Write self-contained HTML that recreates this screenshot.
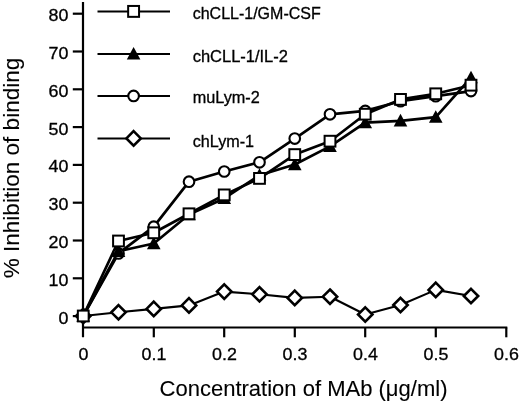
<!DOCTYPE html>
<html><head><meta charset="utf-8"><title>chart</title>
<style>
html,body{margin:0;padding:0;background:#fff;}
body{width:520px;height:403px;overflow:hidden;}
svg{display:block;will-change:transform;}
text{font-family:"Liberation Sans",sans-serif;fill:#000;}
</style></head><body>
<svg width="520" height="403" viewBox="0 0 520 403">
<rect width="520" height="403" fill="#fff"/>
<g stroke="#000" stroke-width="2.2" fill="none">
<line x1="83" y1="2" x2="83" y2="337.3"/>
<line x1="82" y1="327.5" x2="507.3" y2="327.5"/>
<line x1="72.8" y1="316.1" x2="83" y2="316.1"/>
<line x1="72.8" y1="278.3" x2="83" y2="278.3"/>
<line x1="72.8" y1="240.5" x2="83" y2="240.5"/>
<line x1="72.8" y1="202.7" x2="83" y2="202.7"/>
<line x1="72.8" y1="164.9" x2="83" y2="164.9"/>
<line x1="72.8" y1="127.1" x2="83" y2="127.1"/>
<line x1="72.8" y1="89.3" x2="83" y2="89.3"/>
<line x1="72.8" y1="51.5" x2="83" y2="51.5"/>
<line x1="72.8" y1="13.7" x2="83" y2="13.7"/>
<line x1="153.8" y1="327.5" x2="153.8" y2="337.3"/>
<line x1="224.2" y1="327.5" x2="224.2" y2="337.3"/>
<line x1="294.8" y1="327.5" x2="294.8" y2="337.3"/>
<line x1="365.2" y1="327.5" x2="365.2" y2="337.3"/>
<line x1="435.8" y1="327.5" x2="435.8" y2="337.3"/>
<line x1="506.3" y1="327.5" x2="506.3" y2="337.3"/>
</g>
<text transform="translate(68.40,323.50) scale(1.050,1)" font-size="17.00" text-anchor="end" stroke="#000" stroke-width="0.30">0</text>
<text transform="translate(68.40,285.70) scale(1.050,1)" font-size="17.00" text-anchor="end" stroke="#000" stroke-width="0.30">10</text>
<text transform="translate(68.40,247.90) scale(1.050,1)" font-size="17.00" text-anchor="end" stroke="#000" stroke-width="0.30">20</text>
<text transform="translate(68.40,210.10) scale(1.050,1)" font-size="17.00" text-anchor="end" stroke="#000" stroke-width="0.30">30</text>
<text transform="translate(68.40,172.30) scale(1.050,1)" font-size="17.00" text-anchor="end" stroke="#000" stroke-width="0.30">40</text>
<text transform="translate(68.40,134.50) scale(1.050,1)" font-size="17.00" text-anchor="end" stroke="#000" stroke-width="0.30">50</text>
<text transform="translate(68.40,96.70) scale(1.050,1)" font-size="17.00" text-anchor="end" stroke="#000" stroke-width="0.30">60</text>
<text transform="translate(68.40,58.90) scale(1.050,1)" font-size="17.00" text-anchor="end" stroke="#000" stroke-width="0.30">70</text>
<text transform="translate(68.40,21.10) scale(1.050,1)" font-size="17.00" text-anchor="end" stroke="#000" stroke-width="0.30">80</text>
<text transform="translate(83.45,359.60) scale(1.050,1)" font-size="17.00" text-anchor="middle" stroke="#000" stroke-width="0.30">0</text>
<text transform="translate(153.95,359.60) scale(1.050,1)" font-size="17.00" text-anchor="middle" stroke="#000" stroke-width="0.30">0.1</text>
<text transform="translate(224.45,359.60) scale(1.050,1)" font-size="17.00" text-anchor="middle" stroke="#000" stroke-width="0.30">0.2</text>
<text transform="translate(294.95,359.60) scale(1.050,1)" font-size="17.00" text-anchor="middle" stroke="#000" stroke-width="0.30">0.3</text>
<text transform="translate(365.45,359.60) scale(1.050,1)" font-size="17.00" text-anchor="middle" stroke="#000" stroke-width="0.30">0.4</text>
<text transform="translate(435.95,359.60) scale(1.050,1)" font-size="17.00" text-anchor="middle" stroke="#000" stroke-width="0.30">0.5</text>
<text transform="translate(506.45,359.60) scale(1.050,1)" font-size="17.00" text-anchor="middle" stroke="#000" stroke-width="0.30">0.6</text>
<text transform="translate(303.50,395.80) scale(1.020,1)" font-size="21.60" text-anchor="middle" stroke="#000" stroke-width="0.10">Concentration of MAb (μg/ml)</text>
<text transform="translate(19.20,168.00) rotate(-90) scale(1.035,1)" font-size="21.80" text-anchor="middle" stroke="#000" stroke-width="0.10">% Inhibition of binding</text>
<line x1="97.5" y1="11.40" x2="170" y2="11.40" stroke="#000" stroke-width="2"/>
<rect x="128.15" y="5.95" width="10.90" height="10.90" fill="#fff" stroke="#000" stroke-width="2.00"/>
<text transform="translate(192.70,18.50)" font-size="16.00" text-anchor="start" stroke="#000" stroke-width="0.30">chCLL-1/GM-CSF</text>
<line x1="97.5" y1="53.90" x2="170" y2="53.90" stroke="#000" stroke-width="2"/>
<polygon points="133.60,46.97 126.80,59.57 140.40,59.57" fill="#000"/>
<text transform="translate(192.70,61.70) scale(1.030,1)" font-size="16.00" text-anchor="start" stroke="#000" stroke-width="0.30">chCLL-1/IL-2</text>
<line x1="97.5" y1="95.90" x2="170" y2="95.90" stroke="#000" stroke-width="2"/>
<circle cx="133.60" cy="95.90" r="5.30" fill="#fff" stroke="#000" stroke-width="2.10"/>
<text transform="translate(192.70,103.00) scale(1.015,1)" font-size="16.00" text-anchor="start" stroke="#000" stroke-width="0.30">muLym-2</text>
<line x1="97.5" y1="138.40" x2="170" y2="138.40" stroke="#000" stroke-width="2"/>
<polygon points="133.60,131.20 140.80,138.40 133.60,145.60 126.40,138.40" fill="#fff" stroke="#000" stroke-width="2.60" stroke-linejoin="miter"/>
<text transform="translate(192.70,146.50) scale(1.010,1)" font-size="16.00" text-anchor="start" stroke="#000" stroke-width="0.30">chLym-1</text>
<polyline fill="none" stroke="#000" stroke-width="2.10" stroke-linejoin="round" points="83.2,316.0 118.5,312.3 153.8,308.9 189.0,305.4 224.2,291.6 259.5,294.3 294.8,297.9 330.0,296.7 365.2,314.5 400.5,305.0 435.8,289.9 471.0,296.0"/>
<polyline fill="none" stroke="#000" stroke-width="2.70" stroke-linejoin="round" points="83.2,316.0 118.5,253.4 153.8,226.7 189.0,181.7 224.2,171.5 259.5,162.3 294.8,138.6 330.0,114.3 365.2,110.9 400.5,101.2 435.8,96.2 471.0,91.1"/>
<polyline fill="none" stroke="#000" stroke-width="2.70" stroke-linejoin="round" points="83.2,316.0 118.5,251.3 153.8,243.5 189.0,214.5 224.2,198.4 259.5,175.2 294.8,164.5 330.0,146.4 365.2,122.7 400.5,120.8 435.8,117.1 471.0,77.6"/>
<polyline fill="none" stroke="#000" stroke-width="2.70" stroke-linejoin="round" points="83.2,316.0 118.5,241.0 153.8,232.8 189.0,213.8 224.2,194.9 259.5,178.4 294.8,154.6 330.0,141.2 365.2,114.2 400.5,99.4 435.8,93.8 471.0,85.2"/>
<polygon points="83.25,308.80 90.45,316.00 83.25,323.20 76.05,316.00" fill="#fff" stroke="#000" stroke-width="2.60" stroke-linejoin="miter"/>
<polygon points="118.50,305.10 125.70,312.30 118.50,319.50 111.30,312.30" fill="#fff" stroke="#000" stroke-width="2.60" stroke-linejoin="miter"/>
<polygon points="153.75,301.70 160.95,308.90 153.75,316.10 146.55,308.90" fill="#fff" stroke="#000" stroke-width="2.60" stroke-linejoin="miter"/>
<polygon points="189.00,298.20 196.20,305.40 189.00,312.60 181.80,305.40" fill="#fff" stroke="#000" stroke-width="2.60" stroke-linejoin="miter"/>
<polygon points="224.25,284.40 231.45,291.60 224.25,298.80 217.05,291.60" fill="#fff" stroke="#000" stroke-width="2.60" stroke-linejoin="miter"/>
<polygon points="259.50,287.10 266.70,294.30 259.50,301.50 252.30,294.30" fill="#fff" stroke="#000" stroke-width="2.60" stroke-linejoin="miter"/>
<polygon points="294.75,290.70 301.95,297.90 294.75,305.10 287.55,297.90" fill="#fff" stroke="#000" stroke-width="2.60" stroke-linejoin="miter"/>
<polygon points="330.00,289.50 337.20,296.70 330.00,303.90 322.80,296.70" fill="#fff" stroke="#000" stroke-width="2.60" stroke-linejoin="miter"/>
<polygon points="365.25,307.30 372.45,314.50 365.25,321.70 358.05,314.50" fill="#fff" stroke="#000" stroke-width="2.60" stroke-linejoin="miter"/>
<polygon points="400.50,297.80 407.70,305.00 400.50,312.20 393.30,305.00" fill="#fff" stroke="#000" stroke-width="2.60" stroke-linejoin="miter"/>
<polygon points="435.75,282.70 442.95,289.90 435.75,297.10 428.55,289.90" fill="#fff" stroke="#000" stroke-width="2.60" stroke-linejoin="miter"/>
<polygon points="471.00,288.80 478.20,296.00 471.00,303.20 463.80,296.00" fill="#fff" stroke="#000" stroke-width="2.60" stroke-linejoin="miter"/>
<circle cx="83.25" cy="316.00" r="5.30" fill="#fff" stroke="#000" stroke-width="2.10"/>
<circle cx="118.50" cy="253.40" r="5.30" fill="#fff" stroke="#000" stroke-width="2.10"/>
<circle cx="153.75" cy="226.70" r="5.30" fill="#fff" stroke="#000" stroke-width="2.10"/>
<circle cx="189.00" cy="181.70" r="5.30" fill="#fff" stroke="#000" stroke-width="2.10"/>
<circle cx="224.25" cy="171.50" r="5.30" fill="#fff" stroke="#000" stroke-width="2.10"/>
<circle cx="259.50" cy="162.30" r="5.30" fill="#fff" stroke="#000" stroke-width="2.10"/>
<circle cx="294.75" cy="138.60" r="5.30" fill="#fff" stroke="#000" stroke-width="2.10"/>
<circle cx="330.00" cy="114.30" r="5.30" fill="#fff" stroke="#000" stroke-width="2.10"/>
<circle cx="365.25" cy="110.90" r="5.30" fill="#fff" stroke="#000" stroke-width="2.10"/>
<circle cx="400.50" cy="101.20" r="5.30" fill="#fff" stroke="#000" stroke-width="2.10"/>
<circle cx="435.75" cy="96.20" r="5.30" fill="#fff" stroke="#000" stroke-width="2.10"/>
<circle cx="471.00" cy="91.10" r="5.30" fill="#fff" stroke="#000" stroke-width="2.10"/>
<polygon points="83.25,309.07 76.45,321.67 90.05,321.67" fill="#000"/>
<polygon points="118.50,244.37 111.70,256.97 125.30,256.97" fill="#000"/>
<polygon points="153.75,236.57 146.95,249.17 160.55,249.17" fill="#000"/>
<polygon points="189.00,207.57 182.20,220.17 195.80,220.17" fill="#000"/>
<polygon points="224.25,191.47 217.45,204.07 231.05,204.07" fill="#000"/>
<polygon points="259.50,168.27 252.70,180.87 266.30,180.87" fill="#000"/>
<polygon points="294.75,157.57 287.95,170.17 301.55,170.17" fill="#000"/>
<polygon points="330.00,139.47 323.20,152.07 336.80,152.07" fill="#000"/>
<polygon points="365.25,115.77 358.45,128.37 372.05,128.37" fill="#000"/>
<polygon points="400.50,113.87 393.70,126.47 407.30,126.47" fill="#000"/>
<polygon points="435.75,110.17 428.95,122.77 442.55,122.77" fill="#000"/>
<polygon points="471.00,70.67 464.20,83.27 477.80,83.27" fill="#000"/>
<rect x="77.85" y="310.60" width="10.80" height="10.80" fill="#fff" stroke="#000" stroke-width="2.00"/>
<rect x="113.10" y="235.60" width="10.80" height="10.80" fill="#fff" stroke="#000" stroke-width="2.00"/>
<rect x="148.35" y="227.40" width="10.80" height="10.80" fill="#fff" stroke="#000" stroke-width="2.00"/>
<rect x="183.60" y="208.40" width="10.80" height="10.80" fill="#fff" stroke="#000" stroke-width="2.00"/>
<rect x="218.85" y="189.50" width="10.80" height="10.80" fill="#fff" stroke="#000" stroke-width="2.00"/>
<rect x="254.10" y="173.00" width="10.80" height="10.80" fill="#fff" stroke="#000" stroke-width="2.00"/>
<rect x="289.35" y="149.20" width="10.80" height="10.80" fill="#fff" stroke="#000" stroke-width="2.00"/>
<rect x="324.60" y="135.80" width="10.80" height="10.80" fill="#fff" stroke="#000" stroke-width="2.00"/>
<rect x="359.85" y="108.80" width="10.80" height="10.80" fill="#fff" stroke="#000" stroke-width="2.00"/>
<rect x="395.10" y="94.00" width="10.80" height="10.80" fill="#fff" stroke="#000" stroke-width="2.00"/>
<rect x="430.35" y="88.40" width="10.80" height="10.80" fill="#fff" stroke="#000" stroke-width="2.00"/>
<rect x="465.60" y="79.80" width="10.80" height="10.80" fill="#fff" stroke="#000" stroke-width="2.00"/>
</svg></body></html>
